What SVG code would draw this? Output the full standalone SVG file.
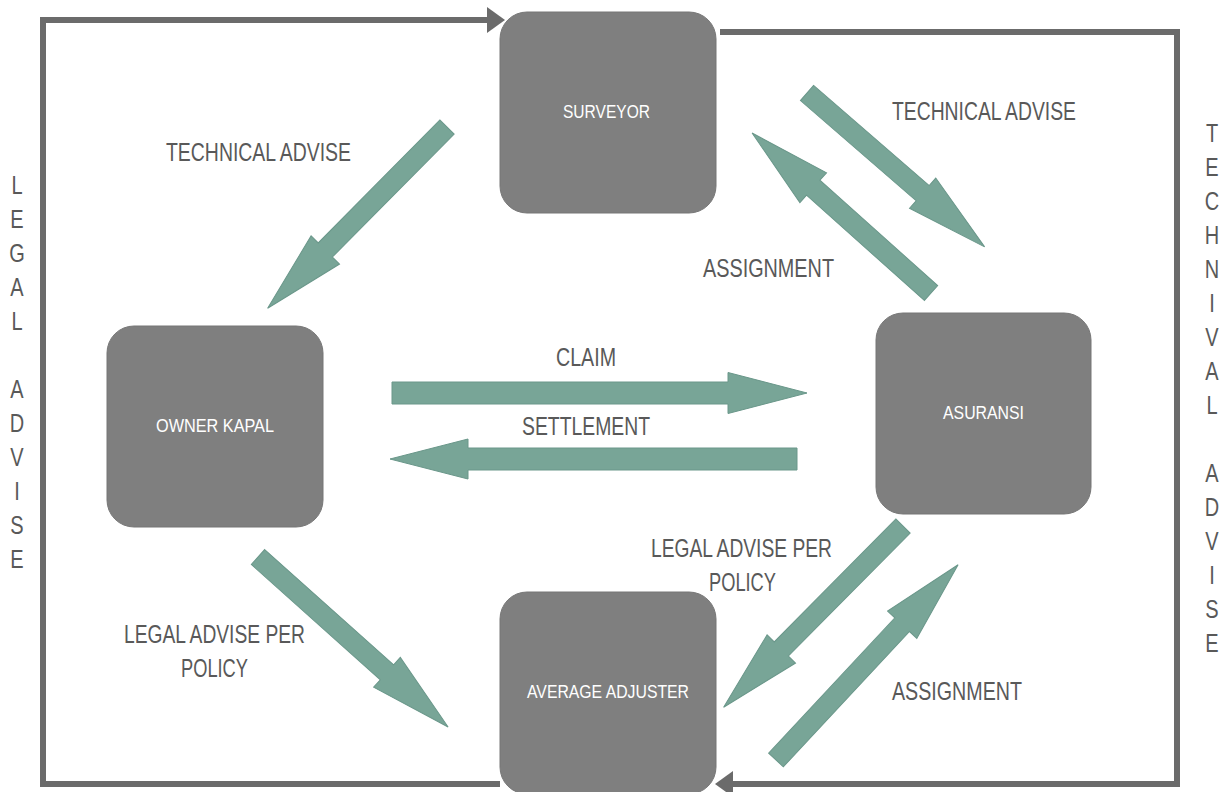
<svg xmlns="http://www.w3.org/2000/svg" width="1223" height="792" viewBox="0 0 1223 792">
<defs>
<style>
.node rect{fill:#7f7f7f;stroke:#777;stroke-width:1}
.ntxt{font-family:"Liberation Sans",Arial,sans-serif;font-size:19px;fill:#ffffff}
.lbl{font-family:"Liberation Sans",Arial,sans-serif;font-size:25px;fill:#595959}
.vt{font-family:"Liberation Sans",Arial,sans-serif;font-size:25px;fill:#595959;text-anchor:middle}
.conn{fill:none;stroke:#6b6b6b;stroke-width:6;stroke-linejoin:miter}
.blk{fill:#78a597;stroke:#6a978a;stroke-width:1}
</style>
<marker id="ah" viewBox="0 0 18 26" refX="0" refY="13" markerWidth="18" markerHeight="26" markerUnits="userSpaceOnUse" orient="auto">
<path d="M0,0 L18,13 L0,26 Z" fill="#6b6b6b"/>
</marker>
</defs>
<rect width="1223" height="792" fill="#ffffff"/>

<g id="connectors">
<path class="conn" d="M500,784 L43,784 L43,20 L487,20" marker-end="url(#ah)"/>
<path class="conn" d="M720,32 L1177,32 L1177,784 L733,784" marker-end="url(#ah)"/>
<polygon class="blk" transform="translate(447,127) rotate(134.7)" points="0,-10 173,-10 173,-20 255,0 173,20 173,10 0,10"/>
<polygon class="blk" transform="translate(807,93) rotate(40.9)" points="0,-10 153,-10 153,-20 235,0 153,20 153,10 0,10"/>
<polygon class="blk" transform="translate(931,293) rotate(-138.2)" points="0,-10 158,-10 158,-20 240,0 158,20 158,10 0,10"/>
<polygon class="blk" transform="translate(392,393)" points="0,-11 336,-11 336,-20.5 415,0 336,20.5 336,11 0,11"/>
<polygon class="blk" transform="translate(797,459) rotate(180)" points="0,-11 329,-11 329,-20 407,0 329,20 329,11 0,11"/>
<polygon class="blk" transform="translate(258,557) rotate(41.8)" points="0,-10 173,-10 173,-20 255,0 173,20 173,10 0,10"/>
<polygon class="blk" transform="translate(903,526) rotate(134.7)" points="0,-10 173,-10 173,-20 255,0 173,20 173,10 0,10"/>
<polygon class="blk" transform="translate(776,760) rotate(-47)" points="0,-10 185,-10 185,-20 267,0 185,20 185,10 0,10"/>
</g>

<g id="labels">
<text class="lbl" x="166" y="161" textLength="185" lengthAdjust="spacingAndGlyphs">TECHNICAL ADVISE</text>
<text class="lbl" x="892" y="120" textLength="184" lengthAdjust="spacingAndGlyphs">TECHNICAL ADVISE</text>
<text class="lbl" x="703" y="277" textLength="131" lengthAdjust="spacingAndGlyphs">ASSIGNMENT</text>
<text class="lbl" x="556" y="366" textLength="60" lengthAdjust="spacingAndGlyphs">CLAIM</text>
<text class="lbl" x="522" y="435" textLength="128" lengthAdjust="spacingAndGlyphs">SETTLEMENT</text>
<text class="lbl" x="651" y="557" textLength="181" lengthAdjust="spacingAndGlyphs">LEGAL ADVISE PER</text>
<text class="lbl" x="709" y="591" textLength="67" lengthAdjust="spacingAndGlyphs">POLICY</text>
<text class="lbl" x="124" y="643" textLength="181" lengthAdjust="spacingAndGlyphs">LEGAL ADVISE PER</text>
<text class="lbl" x="181" y="677" textLength="67" lengthAdjust="spacingAndGlyphs">POLICY</text>
<text class="lbl" x="892" y="700" textLength="130" lengthAdjust="spacingAndGlyphs">ASSIGNMENT</text>
</g>

<g id="legal-advise-vertical" transform="translate(17,0) scale(0.8,1)">
<text class="vt" x="0" y="194">L</text>
<text class="vt" x="0" y="228">E</text>
<text class="vt" x="0" y="262">G</text>
<text class="vt" x="0" y="296">A</text>
<text class="vt" x="0" y="330">L</text>
<text class="vt" x="0" y="398">A</text>
<text class="vt" x="0" y="432">D</text>
<text class="vt" x="0" y="466">V</text>
<text class="vt" x="0" y="500">I</text>
<text class="vt" x="0" y="534">S</text>
<text class="vt" x="0" y="568">E</text>
</g>

<g id="technival-advise-vertical" transform="translate(1212,0) scale(0.8,1)">
<text class="vt" x="0" y="142">T</text>
<text class="vt" x="0" y="176">E</text>
<text class="vt" x="0" y="210">C</text>
<text class="vt" x="0" y="244">H</text>
<text class="vt" x="0" y="278">N</text>
<text class="vt" x="0" y="312">I</text>
<text class="vt" x="0" y="346">V</text>
<text class="vt" x="0" y="380">A</text>
<text class="vt" x="0" y="414">L</text>
<text class="vt" x="0" y="482">A</text>
<text class="vt" x="0" y="516">D</text>
<text class="vt" x="0" y="550">V</text>
<text class="vt" x="0" y="584">I</text>
<text class="vt" x="0" y="618">S</text>
<text class="vt" x="0" y="652">E</text>
</g>

<g id="surveyor" class="node">
<rect x="500" y="12" width="216" height="201" rx="27" ry="27"/>
<text class="ntxt" x="563" y="118" textLength="87" lengthAdjust="spacingAndGlyphs">SURVEYOR</text>
</g>
<g id="owner-kapal" class="node">
<rect x="107" y="326" width="216" height="201" rx="27" ry="27"/>
<text class="ntxt" x="156" y="432" textLength="118" lengthAdjust="spacingAndGlyphs">OWNER KAPAL</text>
</g>
<g id="asuransi" class="node">
<rect x="876" y="313" width="215" height="201" rx="27" ry="27"/>
<text class="ntxt" x="943" y="419" textLength="81" lengthAdjust="spacingAndGlyphs">ASURANSI</text>
</g>
<g id="average-adjuster" class="node">
<rect x="500" y="592" width="216" height="202" rx="27" ry="27"/>
<text class="ntxt" x="527" y="698" textLength="162" lengthAdjust="spacingAndGlyphs">AVERAGE ADJUSTER</text>
</g>
</svg>
